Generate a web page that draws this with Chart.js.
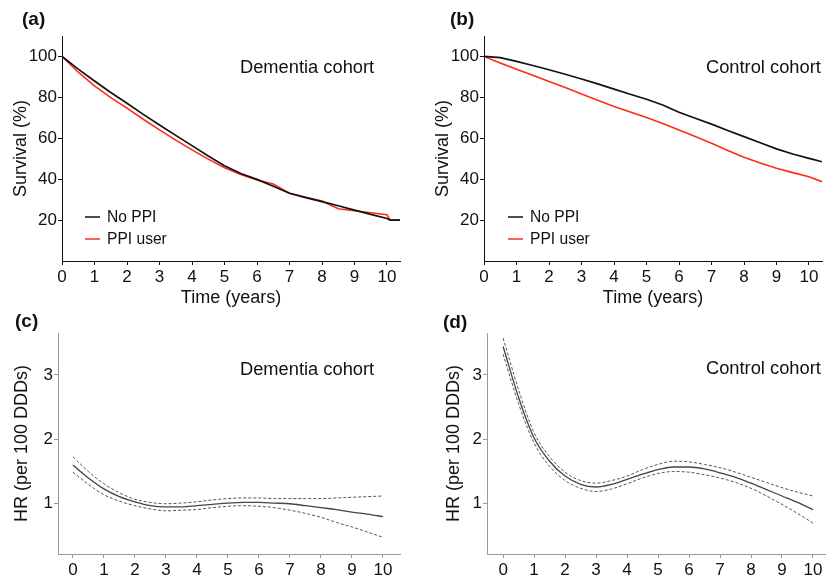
<!DOCTYPE html>
<html>
<head>
<meta charset="utf-8">
<script src="https://cdn.jsdelivr.net/npm/chart.js@4"></script>
<style>
body{margin:0;background:#fff;}
#wrap{position:relative;width:826px;height:576px;overflow:hidden;}
.pan{position:absolute;}
</style>
</head>
<body>
<div id="wrap">
  <div class="pan" style="left:0;top:0;width:413px;height:310px"><canvas id="ca"></canvas></div>
  <div class="pan" style="left:413px;top:0;width:413px;height:310px"><canvas id="cb"></canvas></div>
  <div class="pan" style="left:0;top:305px;width:413px;height:271px"><canvas id="cc"></canvas></div>
  <div class="pan" style="left:413px;top:305px;width:413px;height:271px"><canvas id="cd"></canvas></div>
</div>
<script>
// survival curves (years, %)
const survYears=[0,0.5,1,1.5,2,2.5,3,3.5,4,4.5,5,5.5,6,6.5,7,7.5,8,8.5,9,9.5,10,10.1,10.4];
const demNoPPI=[100,93.8,88,82.4,77.1,71.7,66.5,61.4,56.4,51.3,46.6,42.8,39.9,36.5,33.1,31,29,27,24.9,22.8,20.8,20,20];
const demPPI=[100,92.3,85.6,79.9,74.7,69.3,64.1,59.1,54.3,49.8,45.6,42.3,39.6,37.6,33.1,31.2,29.3,25.5,24.6,23.6,22.6,20,20];
const ctlNoPPI=[100,99.4,97.6,95.6,93.5,91.3,89,86.6,84,81.5,79.1,76.3,72.7,69.8,66.9,63.8,60.8,57.8,54.8,52.3,50.2,49.8,48.5];
const ctlPPI=[100,96.8,93.8,90.8,87.8,84.8,81.7,78.6,75.5,72.8,70.1,67.2,64.1,60.9,57.6,54,50.7,47.9,45.3,43.2,41.2,40.6,38.8];

// hazard ratio curves
const hrYears=[0,0.5,1,1.5,2,2.5,3,3.5,4,4.5,5,5.5,6,6.5,7,7.5,8,8.5,9,9.5,10];
const demHR=[1.6,1.4,1.23,1.11,1.03,0.97,0.95,0.95,0.97,0.99,1.01,1.02,1.02,1.01,1.0,0.97,0.94,0.91,0.87,0.84,0.8];
const demHRup=[1.73,1.5,1.31,1.17,1.07,1.02,1.0,1.01,1.03,1.06,1.08,1.09,1.09,1.08,1.08,1.08,1.08,1.09,1.1,1.11,1.12];
const demHRlo=[1.49,1.3,1.14,1.04,0.97,0.92,0.89,0.9,0.91,0.94,0.96,0.97,0.96,0.94,0.9,0.85,0.79,0.71,0.64,0.56,0.48];
const ctlHR=[3.44,2.65,2.02,1.66,1.43,1.3,1.26,1.3,1.38,1.46,1.53,1.57,1.57,1.54,1.48,1.41,1.32,1.22,1.12,1.02,0.91];
const ctlHRup=[3.57,2.77,2.1,1.73,1.49,1.36,1.32,1.36,1.43,1.53,1.61,1.66,1.65,1.61,1.56,1.49,1.41,1.33,1.25,1.18,1.12];
const ctlHRlo=[3.32,2.55,1.94,1.58,1.36,1.24,1.19,1.23,1.31,1.4,1.47,1.5,1.49,1.45,1.4,1.33,1.24,1.12,0.99,0.85,0.7];

const xTicks=[0,1,2,3,4,5,6,7,8,9,10];
const survTicks=[20,40,60,80,100];
const hrTicks=[1,2,3];
const groupLabels=['No PPI','PPI user'];

const FONT='"Liberation Sans", Arial, sans-serif';
const BLACK='#111111', RED='#ff2b1c';

function pts(xs,ys){return xs.map((x,i)=>({x:x,y:ys[i]}));}

// draws panel letter, cohort name and legend
const panelText={
  id:'panelText',
  afterDraw(chart,args,o){
    const c=chart.ctx;
    c.save();
    c.fillStyle='#111';
    c.textBaseline='middle';
    c.font='bold 19px '+FONT;
    c.textAlign='left';
    c.fillText(o.tag,o.tagX,o.tagY);
    c.font='18.3px '+FONT;
    c.fillText(o.cohort,o.cohortX,o.cohortY);
    if(o.legX!==undefined){
      c.font='15.6px '+FONT;
      chart.data.datasets.forEach((ds,i)=>{
        const y=o.legY+i*22;
        c.strokeStyle=ds.borderColor;
        c.lineWidth=1.5;
        c.beginPath();c.moveTo(o.legX,y);c.lineTo(o.legX+15,y);c.stroke();
        c.fillStyle='#111';
        c.fillText(ds.label,o.legX+22,y+1);
      });
    }
    c.restore();
  }
};

function makeChart(id,cfg){
  const axisCol=cfg.axisCol;
  return new Chart(id,{
    type:'line',
    data:{datasets:cfg.datasets},
    options:{
      responsive:true,maintainAspectRatio:false,animation:false,
      layout:{padding:{left:0,top:cfg.area.top,right:cfg.w-cfg.area.right,bottom:0}},
      elements:{point:{radius:0}},
      plugins:{legend:{display:false},tooltip:{enabled:false},panelText:cfg.text},
      scales:{
        x:{type:'linear',min:cfg.xmin,max:cfg.xmax,
          afterBuildTicks:s=>{s.ticks=xTicks.map(v=>({value:v}));},
          afterFit:s=>{s.height=cfg.h-cfg.area.bottom;},
          grid:{drawOnChartArea:false,tickLength:4,color:axisCol},
          border:{color:axisCol,width:1},
          ticks:{color:'#111',padding:2,font:{family:FONT,size:17},maxRotation:0},
          title:{display:!!cfg.xTitle,text:cfg.xTitle,color:'#111',font:{family:FONT,size:18},padding:{top:0,bottom:1}}
        },
        y:{type:'linear',min:cfg.ymin,max:cfg.ymax,
          afterBuildTicks:s=>{s.ticks=cfg.yTicks.map(v=>({value:v}));},
          afterFit:s=>{s.width=cfg.area.left;},
          grid:{drawOnChartArea:false,tickLength:4,color:axisCol},
          border:{color:axisCol,width:1},
          ticks:{color:'#111',padding:1,font:{family:FONT,size:17}},
          title:{display:true,text:cfg.yTitle,color:'#111',font:{family:FONT,size:18},padding:{top:cfg.yTitlePad,bottom:0}}
        }
      }
    },
    plugins:[panelText]
  });
}

function survSets(black,red){
  return [
    {label:groupLabels[0],data:pts(survYears,black),borderColor:BLACK,borderWidth:1.7,tension:0},
    {label:groupLabels[1],data:pts(survYears,red),borderColor:RED,borderWidth:1.6,tension:0}
  ];
}
function hrSets(mid,up,lo){
  return [
    {data:pts(hrYears,up),borderColor:'#555',borderWidth:1,borderDash:[3,2],cubicInterpolationMode:'monotone'},
    {data:pts(hrYears,lo),borderColor:'#555',borderWidth:1,borderDash:[3,2],cubicInterpolationMode:'monotone'},
    {data:pts(hrYears,mid),borderColor:'#444',borderWidth:1.3,cubicInterpolationMode:'monotone'}
  ];
}

makeChart('ca',{w:413,h:310,area:{left:62,right:400,top:36,bottom:261},axisCol:'#111',
  xmin:0,xmax:10.4,ymin:0,ymax:110,yTicks:survTicks,xTitle:'Time (years)',yTitle:'Survival (%)',yTitlePad:10,
  datasets:survSets(demNoPPI,demPPI),
  text:{tag:'(a)',tagX:22,tagY:20,cohort:'Dementia cohort',cohortX:240,cohortY:68,legX:85,legY:217}});

makeChart('cb',{w:413,h:310,area:{left:71,right:409,top:36,bottom:261},axisCol:'#111',
  xmin:0,xmax:10.4,ymin:0,ymax:110,yTicks:survTicks,xTitle:'Time (years)',yTitle:'Survival (%)',yTitlePad:19,
  datasets:survSets(ctlNoPPI,ctlPPI),
  text:{tag:'(b)',tagX:37,tagY:20,cohort:'Control cohort',cohortX:293,cohortY:68,legX:95,legY:217}});

makeChart('cc',{w:413,h:271,area:{left:58,right:400,top:28,bottom:249},axisCol:'#999',
  xmin:-0.48,xmax:10.55,ymin:0.22,ymax:3.65,yTicks:hrTicks,xTitle:'',yTitle:'HR (per 100 DDDs)',yTitlePad:11,
  datasets:hrSets(demHR,demHRup,demHRlo),
  text:{tag:'(c)',tagX:15,tagY:17,cohort:'Dementia cohort',cohortX:240,cohortY:65}});

makeChart('cd',{w:413,h:271,area:{left:74,right:413,top:28,bottom:249},axisCol:'#999',
  xmin:-0.52,xmax:10.42,ymin:0.22,ymax:3.65,yTicks:hrTicks,xTitle:'',yTitle:'HR (per 100 DDDs)',yTitlePad:30,
  datasets:hrSets(ctlHR,ctlHRup,ctlHRlo),
  text:{tag:'(d)',tagX:30,tagY:18,cohort:'Control cohort',cohortX:293,cohortY:64}});
</script>
</body>
</html>
